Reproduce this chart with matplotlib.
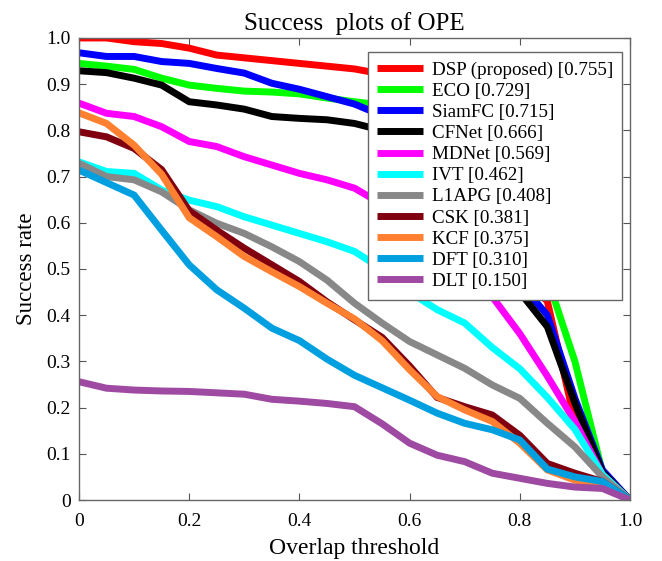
import numpy as np
import matplotlib
matplotlib.use("Agg")
import matplotlib.pyplot as plt
from matplotlib.ticker import FixedLocator, FuncFormatter

plt.rcParams['font.family'] = ['Liberation Serif', 'DejaVu Serif']
plt.rcParams['mathtext.fontset'] = 'stix'

# Overlap thresholds (0 to 1 in steps of 0.05)
thresholds = np.linspace(0, 1, 21)

trackers = ["DSP (proposed)", "ECO", "SiamFC", "CFNet", "MDNet", "IVT",
            "L1APG", "CSK", "KCF", "DFT", "DLT"]
auc_scores = [0.755, 0.729, 0.715, 0.666, 0.569, 0.462,
              0.408, 0.381, 0.375, 0.310, 0.150]

dsp = [1.000, 1.000, 0.992, 0.988, 0.978, 0.963, 0.957, 0.951, 0.945, 0.939, 0.933,
       0.922, 0.900, 0.850, 0.770, 0.650, 0.490, 0.430, 0.170, 0.050, 0.0]
eco = [0.945, 0.939, 0.932, 0.913, 0.898, 0.891, 0.885, 0.883, 0.879, 0.870, 0.862,
       0.855, 0.840, 0.820, 0.780, 0.700, 0.580, 0.480, 0.300, 0.060, 0.0]
siamfc = [0.968, 0.960, 0.960, 0.949, 0.945, 0.934, 0.924, 0.902, 0.889, 0.873, 0.857,
          0.832, 0.810, 0.760, 0.680, 0.580, 0.470, 0.400, 0.220, 0.065, 0.0]
cfnet = [0.929, 0.925, 0.913, 0.898, 0.862, 0.855, 0.846, 0.830, 0.826, 0.823, 0.815,
         0.800, 0.760, 0.690, 0.610, 0.530, 0.450, 0.375, 0.210, 0.060, 0.0]
mdnet = [0.859, 0.837, 0.830, 0.808, 0.776, 0.765, 0.743, 0.725, 0.707, 0.693, 0.675,
         0.640, 0.600, 0.550, 0.500, 0.440, 0.360, 0.268, 0.170, 0.055, 0.0]
ivt = [0.732, 0.711, 0.707, 0.671, 0.649, 0.635, 0.613, 0.595, 0.577, 0.559, 0.538,
       0.500, 0.450, 0.412, 0.383, 0.330, 0.284, 0.222, 0.153, 0.055, 0.0]
l1apg = [0.729, 0.700, 0.693, 0.667, 0.628, 0.599, 0.577, 0.548, 0.516, 0.476, 0.426,
         0.383, 0.343, 0.314, 0.285, 0.249, 0.220, 0.166, 0.115, 0.050, 0.0]
csk = [0.797, 0.786, 0.761, 0.715, 0.626, 0.584, 0.545, 0.509, 0.473, 0.429, 0.390,
       0.352, 0.290, 0.222, 0.202, 0.184, 0.140, 0.079, 0.058, 0.040, 0.0]
kcf = [0.838, 0.815, 0.768, 0.705, 0.611, 0.570, 0.527, 0.494, 0.462, 0.426, 0.392,
       0.345, 0.282, 0.224, 0.195, 0.170, 0.123, 0.065, 0.043, 0.032, 0.0]
dft = [0.714, 0.687, 0.660, 0.584, 0.509, 0.455, 0.415, 0.372, 0.345, 0.305, 0.270,
       0.243, 0.216, 0.188, 0.166, 0.152, 0.130, 0.067, 0.050, 0.040, 0.0]
dlt = [0.256, 0.242, 0.238, 0.236, 0.235, 0.232, 0.229, 0.218, 0.214, 0.209, 0.202,
       0.165, 0.123, 0.097, 0.083, 0.058, 0.047, 0.036, 0.028, 0.025, 0.0]

series = [dsp, eco, siamfc, cfnet, mdnet, ivt, l1apg, csk, kcf, dft, dlt]
colors = ["#ff0000", "#00ff00", "#0000ff", "#000000", "#ff00ff", "#00ffff",
          "#888888", "#800010", "#ff8030", "#00a0e0", "#9e4aa2"]

fig = plt.figure(figsize=(6.62, 5.61), dpi=100)
ax = fig.add_axes([0.1193, 0.1087, 0.8324, 0.8236])

for name, score, vals, c in zip(trackers, auc_scores, series, colors):
    ax.plot(thresholds, vals, color=c, lw=5, solid_joinstyle='miter',
            solid_capstyle='butt', label=f"{name} [{score:.3f}]")

ax.set_xlim(0, 1)
ax.set_ylim(0, 1)
ax.xaxis.set_major_locator(FixedLocator(np.arange(0, 1.01, 0.2)))
ax.yaxis.set_major_locator(FixedLocator(np.arange(0, 1.01, 0.1)))
fmt = FuncFormatter(lambda v, p: "0" if abs(v) < 1e-9 else f"{v:.1f}")
ax.xaxis.set_major_formatter(fmt)
ax.yaxis.set_major_formatter(fmt)
ax.tick_params(axis='both', direction='in', top=True, right=True, length=5,
               color='#555555', labelsize=14)
ax.tick_params(axis='x', pad=9)
ax.tick_params(axis='y', pad=6)
for sp in ax.spines.values():
    sp.set_color('#666666')
    sp.set_linewidth(1.0)

ax.set_title("Success  plots of OPE", fontsize=18, pad=6)
ax.set_xlabel("Overlap threshold", fontsize=17, labelpad=6)
ax.set_ylabel("Success rate", fontsize=16.5, labelpad=7)

leg = ax.legend(loc='upper right', bbox_to_anchor=(0.986, 0.97), borderaxespad=0,
                fontsize=13.7, handlelength=2.4, handletextpad=0.45, labelspacing=0.2,
                fancybox=False, framealpha=1, edgecolor='#666666', borderpad=0.5)
leg.get_frame().set_linewidth(1.0)

fig.savefig("out.png", dpi=100)
